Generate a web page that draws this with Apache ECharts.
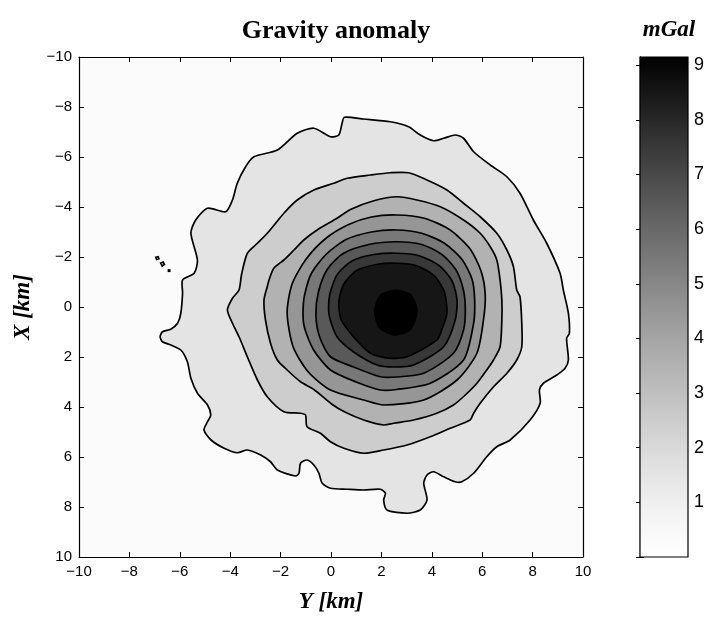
<!DOCTYPE html>
<html>
<head>
<meta charset="utf-8">
<script src="https://cdn.jsdelivr.net/npm/echarts@6/dist/echarts.min.js"></script>
<style>
  html, body { margin: 0; padding: 0; background: #fff; }
  #chart { width: 712px; height: 624px; }
</style>
</head>
<body>
<div id="chart"></div>
<script>
// Axis ticks (km) and colour-bar range (mGal)
const axisTicksKm = [-10, -8, -6, -4, -2, 0, 2, 4, 6, 8, 10];
const colorbarTicks = [1, 2, 3, 4, 5, 6, 7, 8, 9];
const anomalyMin = 0;
const anomalyMax = 9.15;

// Contour rings of the gravity anomaly: points are [Y km, X km]
const contour1 = [
  [-0.02,-6.81],[0.31,-6.88],[0.44,-7.35],[0.53,-7.59],[1.30,-7.52],[2.36,-7.41],[3.08,-7.21],[3.54,-6.88],
  [4.07,-6.65],[4.47,-6.75],[4.93,-6.88],[5.26,-6.75],[5.66,-6.21],[6.32,-5.68],[6.98,-5.21],[7.50,-4.55],
  [8.03,-3.48],[8.56,-2.55],[9.09,-1.35],[9.22,-0.68],[9.42,0.25],[9.46,1.05],[9.35,1.25],[9.42,2.12],
  [9.29,2.45],[8.96,2.72],[8.43,3.05],[8.27,3.32],[8.30,3.85],[7.90,4.52],[7.11,5.32],[6.58,5.59],
  [6.18,5.99],[5.66,6.65],[5.19,6.99],[4.93,6.99],[4.47,6.79],[4.07,6.59],[3.81,6.72],[3.68,7.05],
  [3.81,7.72],[3.54,8.12],[3.02,8.25],[2.22,8.12],[2.09,7.72],[2.16,7.45],[1.96,7.29],[1.30,7.32],
  [0.64,7.29],[-0.02,7.25],[-0.35,7.05],[-0.48,6.65],[-0.68,6.32],[-0.95,6.12],[-1.21,6.25],[-1.27,6.65],
  [-1.41,6.76],[-2.13,6.52],[-2.40,6.19],[-2.79,5.92],[-3.32,5.72],[-3.72,5.83],[-4.24,5.65],[-4.76,5.32],
  [-5.04,4.92],[-4.90,4.59],[-4.77,4.32],[-4.90,3.92],[-5.30,3.45],[-5.56,2.85],[-5.70,2.19],[-5.96,1.72],
  [-6.36,1.52],[-6.69,1.39],[-6.78,1.19],[-6.69,0.99],[-6.36,0.89],[-6.09,0.65],[-5.96,0.25],[-5.89,-0.55],
  [-5.89,-1.08],[-5.43,-1.35],[-5.30,-1.88],[-5.56,-2.95],[-5.37,-3.48],[-4.90,-3.95],[-4.18,-3.81],
  [-3.91,-4.28],[-3.72,-4.95],[-3.39,-5.61],[-3.06,-6.01],[-2.13,-6.28],[-1.34,-6.95],[-0.68,-7.15]
];
const contour1IslandA = [[-6.95,-1.99],[-6.86,-2.01],[-6.83,-1.93],[-6.92,-1.90]];
const contour1IslandB = [[-6.76,-1.76],[-6.66,-1.80],[-6.61,-1.70],[-6.70,-1.64]];
const contour1IslandC = [[-6.45,-1.48],[-6.40,-1.48],[-6.40,-1.43],[-6.45,-1.43]];
const contour2 = [
  [-3.65,-0.68],[-3.55,-1.30],[-3.32,-2.15],[-2.92,-2.55],[-2.53,-2.95],[-1.87,-3.75],[-1.34,-4.28],
  [-0.68,-4.68],[0.11,-4.95],[0.64,-5.15],[1.56,-5.28],[2.36,-5.37],[3.08,-5.37],[3.81,-5.08],[4.60,-4.68],
  [5.26,-4.15],[5.92,-3.61],[6.58,-2.95],[6.98,-2.28],[7.24,-1.61],[7.37,-0.68],[7.50,-0.41],[7.57,0.65],
  [7.57,1.59],[7.37,2.12],[6.98,2.65],[6.45,3.19],[5.92,3.85],[5.66,4.25],[5.52,4.52],[4.73,4.85],
  [3.94,5.19],[3.02,5.52],[2.09,5.72],[1.30,5.85],[0.51,5.65],[-0.02,5.39],[-0.42,5.05],[-0.95,4.79],
  [-1.01,4.32],[-1.21,4.25],[-1.87,4.19],[-2.53,3.59],[-2.92,2.92],[-3.32,1.99],[-3.65,1.19],[-3.91,0.65],
  [-4.11,0.12],[-3.91,-0.35]
];
const contour3 = [
  [-2.46,-1.08],[-2.27,-1.55],[-1.87,-1.88],[-1.47,-2.28],[-1.08,-2.68],[-0.55,-3.08],[0.24,-3.55],
  [0.77,-3.90],[1.70,-4.25],[2.62,-4.41],[3.41,-4.28],[4.34,-4.01],[5.26,-3.48],[5.92,-2.95],[6.32,-2.41],
  [6.58,-1.88],[6.71,-1.08],[6.78,-0.28],[6.78,0.52],[6.71,1.59],[6.45,2.12],[6.18,2.52],[5.79,3.05],
  [5.33,3.52],[4.86,3.92],[4.20,4.25],[3.28,4.52],[2.49,4.65],[2.09,4.72],[1.30,4.52],[0.55,4.20],
  [0.05,3.90],[-0.68,3.30],[-1.21,2.99],[-1.74,2.52],[-2.13,2.12],[-2.40,1.45],[-2.60,0.52],[-2.66,-0.28],
  [-2.53,-0.81]
];
const contour4 = [
  [2.60,-3.68],[3.70,-3.55],[4.70,-3.10],[5.50,-2.35],[5.95,-1.45],[6.12,-0.50],[6.05,0.52],[5.79,1.85],
  [5.00,2.92],[3.68,3.72],[2.09,3.92],[1.30,3.72],[-0.02,3.32],[-0.90,2.60],[-1.50,1.60],[-1.74,0.25],
  [-1.55,-0.90],[-1.00,-1.90],[-0.20,-2.75],[0.70,-3.30],[1.60,-3.60]
];
const contour5 = [
  [2.60,-3.08],[3.60,-2.95],[4.50,-2.55],[5.20,-1.90],[5.60,-1.10],[5.70,-0.30],[5.66,0.65],[5.26,2.12],
  [3.94,3.05],[2.60,3.30],[1.96,3.32],[1.00,3.00],[-0.02,2.52],[-0.70,1.70],[-1.08,0.70],[-1.08,-0.30],
  [-0.80,-1.30],[-0.20,-2.10],[0.60,-2.70],[1.60,-3.00]
];
const contour6 = [
  [2.60,-2.61],[3.60,-2.50],[4.40,-2.10],[4.95,-1.50],[5.25,-0.70],[5.33,0.10],[5.26,0.92],[4.86,1.85],
  [3.68,2.65],[2.60,2.80],[1.96,2.79],[0.90,2.40],[-0.02,1.99],[-0.45,1.20],[-0.60,0.30],[-0.50,-0.60],
  [-0.15,-1.50],[0.50,-2.15],[1.50,-2.50]
];
const contour7 = [
  [2.60,-2.15],[3.50,-2.05],[4.30,-1.65],[4.80,-1.05],[5.00,-0.30],[4.93,0.52],[4.47,1.59],[3.28,2.32],
  [2.50,2.40],[1.83,2.32],[0.90,1.80],[0.24,1.19],[-0.08,0.30],[-0.05,-0.50],[0.25,-1.30],[0.85,-1.85],
  [1.70,-2.10]
];
const contour8 = [
  [2.60,-1.75],[3.40,-1.65],[4.10,-1.25],[4.50,-0.60],[4.60,0.25],[4.40,0.90],[4.20,1.32],[3.02,1.99],
  [2.30,2.05],[1.56,1.85],[0.90,1.20],[0.40,0.50],[0.31,-0.20],[0.50,-0.90],[1.00,-1.45],[1.80,-1.70]
];
const contour9 = [
  [2.60,-0.70],[3.20,-0.50],[3.45,0.20],[3.15,0.95],[2.50,1.15],[1.90,0.85],[1.70,0.15],[1.95,-0.50]
];

// Level of each ring, drawn in this order (outer first, inner on top)
const ringLevels = [1, 1, 1, 1, 2, 3, 4, 5, 6, 7, 8, 9];
const rings = [contour1, contour1IslandA, contour1IslandB, contour1IslandC,
               contour2, contour3, contour4, contour5, contour6, contour7, contour8, contour9];

// Grey colour map: white at the minimum, black at the maximum
function grey(v) {
  const s = Math.max(0, Math.min(1, (v - anomalyMin) / (anomalyMax - anomalyMin)));
  const c = Math.round(255 * (1 - Math.pow(s, 1.25)));
  return 'rgb(' + c + ',' + c + ',' + c + ')';
}
function bandFill(level) {
  return level >= 9 ? grey(anomalyMax) : grey(level + 0.5);
}

const minus = v => (v < 0 ? '\u2212' + Math.abs(v) : String(v));
const tickFont = { fontFamily: 'Liberation Sans', fontSize: 15, color: '#000' };
const nameFont = { fontFamily: 'Liberation Serif', fontStyle: 'italic', fontWeight: 'bold', fontSize: 23, color: '#000' };

const PLOT = { left: 79, top: 57, width: 504, height: 500 };
const CBAR = { left: 640, top: 57, width: 48, height: 500 };

function frameAxis(extra) {
  return Object.assign({
    type: 'value', min: axisTicksKm[0], max: axisTicksKm[axisTicksKm.length - 1], interval: 2,
    axisLine: { show: true, onZero: false, lineStyle: { color: '#000', width: 1.2 } },
    axisTick: { show: true, inside: true, length: 5, lineStyle: { color: '#000', width: 1 } },
    splitLine: { show: false },
    axisLabel: Object.assign({ formatter: minus, margin: 7 }, tickFont)
  }, extra);
}

const stops = [];
for (let i = 0; i <= 20; i++) {
  const v = anomalyMin + (anomalyMax - anomalyMin) * i / 20;
  stops.push({ offset: i / 20, color: grey(v) });
}

const chart = echarts.init(document.getElementById('chart'), null, { renderer: 'canvas' });
chart.setOption({
  backgroundColor: '#fff',
  animation: false,
  title: [
    { text: 'Gravity anomaly', left: PLOT.left + PLOT.width / 2, top: 13, textAlign: 'center',
      textStyle: { fontFamily: 'Liberation Serif', fontWeight: 'bold', fontSize: 26, color: '#000' } },
    { text: 'mGal', left: CBAR.left + CBAR.width / 2, top: 14, textAlign: 'center',
      textStyle: { fontFamily: 'Liberation Serif', fontStyle: 'italic', fontWeight: 'bold', fontSize: 23, color: '#000' } }
  ],
  grid: [
    Object.assign({ show: true, backgroundColor: grey(0.3), borderWidth: 0 }, PLOT),
    Object.assign({ show: false }, CBAR)
  ],
  xAxis: [
    frameAxis({ gridIndex: 0, position: 'bottom', name: 'Y [km]', nameLocation: 'middle', nameGap: 34, nameTextStyle: nameFont }),
    frameAxis({ gridIndex: 0, position: 'top', axisLabel: { show: false } }),
    { gridIndex: 1, type: 'value', min: 0, max: 1, show: false }
  ],
  yAxis: [
    frameAxis({ gridIndex: 0, position: 'left', inverse: true, name: 'X [km]', nameLocation: 'middle', nameGap: 44, nameTextStyle: nameFont }),
    frameAxis({ gridIndex: 0, position: 'right', inverse: true, axisLabel: { show: false } }),
    { gridIndex: 1, type: 'value', min: anomalyMin, max: anomalyMax, interval: 1, position: 'right',
      axisLine: { show: true, lineStyle: { color: '#000', width: 1.2 } },
      axisTick: { show: true, inside: true, length: 4, lineStyle: { color: '#000' } },
      splitLine: { show: false },
      axisLabel: { fontFamily: 'Liberation Sans', fontSize: 18, color: '#000', margin: 6, showMaxLabel: false,
        formatter: v => (colorbarTicks.indexOf(v) >= 0 ? String(v) : '') } },
    { gridIndex: 1, type: 'value', min: anomalyMin, max: anomalyMax, interval: 1, position: 'left',
      axisLine: { show: true, lineStyle: { color: '#000', width: 1.2 } },
      axisTick: { show: true, inside: true, length: 4, lineStyle: { color: '#000' } },
      splitLine: { show: false }, axisLabel: { show: false } }
  ],
  series: [
    {
      type: 'custom', name: 'contours', xAxisIndex: 0, yAxisIndex: 0, clip: true,
      data: rings.map((r, i) => [0, 0, i]),
      renderItem: function (params, api) {
        const i = params.dataIndex;
        const pts = rings[i].map(p => api.coord([p[0], p[1]]));
        const lvl = ringLevels[i];
        return {
          type: 'polygon',
          shape: { points: pts, smooth: rings[i].length > 6 ? 0.25 : 0 },
          style: { fill: bandFill(lvl), stroke: '#000', lineWidth: lvl >= 9 ? 0 : 1.7 }
        };
      }
    },
    {
      type: 'custom', name: 'colorbar', xAxisIndex: 2, yAxisIndex: 2,
      data: [[0, anomalyMin, 1, anomalyMax]],
      renderItem: function (params, api) {
        const p0 = api.coord([api.value(0), api.value(1)]);
        const p1 = api.coord([api.value(2), api.value(3)]);
        return {
          type: 'rect',
          shape: { x: p0[0], y: p1[1], width: p1[0] - p0[0], height: p0[1] - p1[1] },
          style: {
            fill: new echarts.graphic.LinearGradient(0, 1, 0, 0, stops),
            stroke: '#000', lineWidth: 1.2
          }
        };
      }
    }
  ]
});
</script>
</body>
</html>
